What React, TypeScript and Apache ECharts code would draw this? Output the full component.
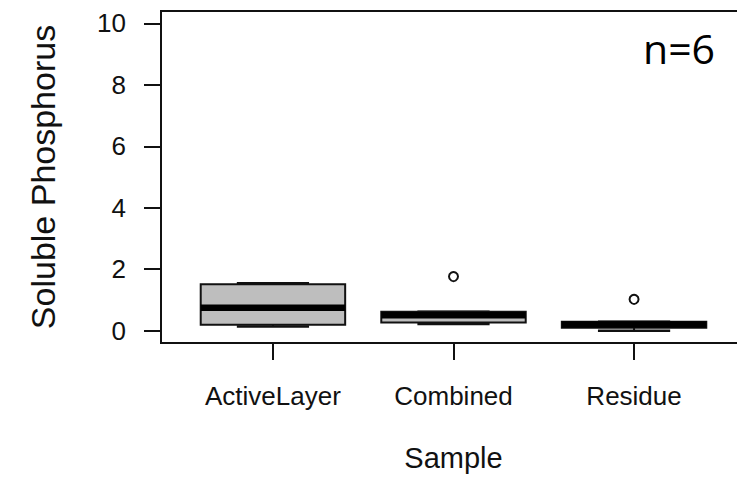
import React, { useEffect, useRef } from "react";
import * as echarts from "echarts";

const categories = ["ActiveLayer", "Combined", "Residue"];
const whiskerLow = [0.14, 0.22, 0.0];
const q1 = [0.19, 0.27, 0.1];
const medians = [0.75, 0.5, 0.2];
const q3 = [1.51, 0.62, 0.29];
const whiskerHigh = [1.54, 0.62, 0.29];
const outlierGroups = ["Combined", "Residue"];
const outlierValues = [1.76, 1.02];
const yTicks = [0, 2, 4, 6, 8, 10];
const xTicks = [1, 2, 3];

const INK = "#111111";
const FONT = "'Liberation Sans', Arial, sans-serif";

export default function App() {
  const ref = useRef<HTMLDivElement>(null);

  useEffect(() => {
    if (!ref.current) return;
    const chart = echarts.init(ref.current, undefined, { renderer: "svg" });

    const boxData = categories.map((_, i) => [
      i + 1,
      whiskerLow[i],
      q1[i],
      medians[i],
      q3[i],
      whiskerHigh[i],
    ]);
    const outlierData = outlierGroups.map((g, i) => [
      categories.indexOf(g) + 1,
      outlierValues[i],
    ]);

    const option: any = {
      animation: false,
      backgroundColor: "#ffffff",
      grid: {
        left: 161,
        top: 11,
        width: 585,
        height: 332,
        outerBoundsMode: "none",
        containLabel: false,
        show: true,
        borderColor: INK,
        borderWidth: 2,
        backgroundColor: "transparent",
      },
      xAxis: {
        type: "value",
        min: 0.38,
        max: 3.62,
        name: "Sample",
        nameLocation: "middle",
        nameGap: 100,
        nameTextStyle: { fontFamily: FONT, fontSize: 29, color: INK },
        axisLine: { show: true, onZero: false, lineStyle: { color: INK, width: 2 } },
        axisTick: {
          show: true,
          inside: false,
          length: 17,
          customValues: xTicks,
          lineStyle: { color: INK, width: 2 },
        },
        axisLabel: {
          show: true,
          customValues: xTicks,
          margin: 40,
          fontFamily: FONT,
          fontSize: 26,
          color: INK,
          formatter: (v: number) => categories[Math.round(v) - 1] ?? "",
        },
        splitLine: { show: false },
      },
      yAxis: {
        type: "value",
        min: -0.4,
        max: 10.4,
        name: "Soluble Phosphorus",
        nameLocation: "middle",
        nameGap: 101,
        nameTextStyle: { fontFamily: FONT, fontSize: 34, color: INK },
        axisLine: { show: true, onZero: false, lineStyle: { color: INK, width: 2 } },
        axisTick: {
          show: true,
          inside: false,
          length: 17,
          customValues: yTicks,
          lineStyle: { color: INK, width: 2 },
        },
        axisLabel: {
          show: true,
          customValues: yTicks,
          margin: 35,
          fontFamily: FONT,
          fontSize: 26,
          color: INK,
        },
        splitLine: { show: false },
      },
      series: [
        {
          type: "custom",
          clip: false,
          data: boxData,
          encode: { x: 0, y: [1, 2, 3, 4, 5] },
          renderItem: (params: any, api: any) => {
            const x = api.value(0);
            const pLo = api.coord([x, api.value(1)]);
            const pQ1 = api.coord([x, api.value(2)]);
            const pMed = api.coord([x, api.value(3)]);
            const pQ3 = api.coord([x, api.value(4)]);
            const pHi = api.coord([x, api.value(5)]);
            const cx = pMed[0];
            const halfBox = api.size([0.4, 0])[0];
            const halfCap = api.size([0.2, 0])[0];
            const children: any[] = [];
            children.push({
              type: "line",
              shape: { x1: cx, y1: pQ3[1], x2: cx, y2: pHi[1] },
              style: { stroke: INK, lineWidth: 2, lineDash: [5, 4] },
            });
            children.push({
              type: "line",
              shape: { x1: cx, y1: pQ1[1], x2: cx, y2: pLo[1] },
              style: { stroke: INK, lineWidth: 2, lineDash: [5, 4] },
            });
            children.push({
              type: "line",
              shape: { x1: cx - halfCap, y1: pHi[1], x2: cx + halfCap, y2: pHi[1] },
              style: { stroke: INK, lineWidth: 2.5 },
            });
            children.push({
              type: "line",
              shape: { x1: cx - halfCap, y1: pLo[1], x2: cx + halfCap, y2: pLo[1] },
              style: { stroke: INK, lineWidth: 2.5 },
            });
            children.push({
              type: "rect",
              shape: {
                x: cx - halfBox,
                y: pQ3[1],
                width: 2 * halfBox,
                height: pQ1[1] - pQ3[1],
              },
              style: { fill: "#bebebe", stroke: INK, lineWidth: 2 },
            });
            children.push({
              type: "line",
              shape: { x1: cx - halfBox, y1: pMed[1], x2: cx + halfBox, y2: pMed[1] },
              style: { stroke: "#000", lineWidth: 6.5, lineCap: "butt" },
            });
            return { type: "group", children };
          },
        },
        {
          type: "scatter",
          data: outlierData,
          symbol: "circle",
          symbolSize: 9,
          itemStyle: { color: "#ffffff", borderColor: INK, borderWidth: 2, opacity: 1 },
          z: 5,
        },
      ],
      graphic: [
        {
          type: "text",
          left: 643,
          top: 27,
          style: {
            text: "n=6",
            fontFamily: "'Open Sans', 'Noto Sans', sans-serif",
            fontSize: 41,
            fill: "#000",
          },
        },
      ],
    };

    chart.setOption(option);
    return () => chart.dispose();
  }, []);

  return (
    <div
      ref={ref}
      style={{ position: "fixed", left: 0, top: 0, width: 737, height: 477 }}
    />
  );
}
